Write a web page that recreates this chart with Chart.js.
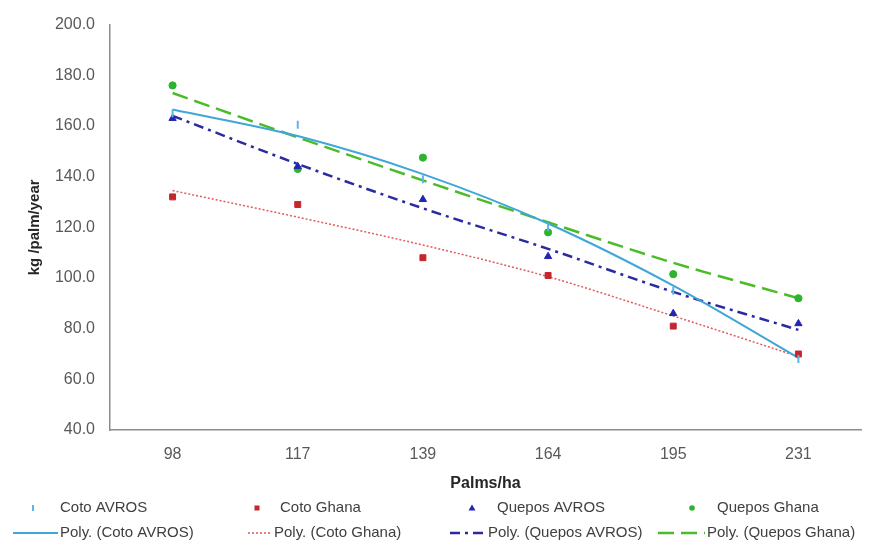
<!DOCTYPE html>
<html>
<head>
<meta charset="utf-8">
<script src="https://cdn.jsdelivr.net/npm/chart.js@4.4.1/dist/chart.umd.min.js"></script>
<style>
  html, body { margin: 0; padding: 0; background: #fff; }
  #wrap { width: 875px; height: 546px; }
</style>
</head>
<body>
<div id="wrap"><canvas id="yield"></canvas></div>
<script>
// palms per hectare (categories)
var densities = ['98', '117', '139', '164', '195', '231'];

// observed yields, kg/palm/year
var cotoAvros   = [165, 160.5, 139, 120, 95, 68];
var cotoGhana   = [132, 129, 108, 101, 81, 70];
var queposAvros = [163, 144, 131, 108.5, 86, 82];
var queposGhana = [176, 143, 147.5, 118, 101.5, 92];

// polynomial trend lines at each density
var polyCotoAvros   = [166.5, 156, 141, 121.5, 97, 68.5];
var polyCotoGhana   = [134.5, 124, 113, 100.5, 85, 69];
var polyQueposAvros = [164, 145, 127.5, 111.5, 94.5, 79.5];
var polyQueposGhana = [173, 155.5, 138.5, 122, 106, 92];

var FONT = '"Liberation Sans", Arial, sans-serif';

function markers(label, data, color, style, radius, extra) {
  var ds = {
    label: label,
    data: data,
    showLine: false,
    pointStyle: style,
    pointRadius: radius,
    pointHoverRadius: radius,
    backgroundColor: color,
    borderColor: color,
    pointBorderWidth: 1
  };
  for (var k in extra) ds[k] = extra[k];
  return ds;
}

function trend(label, data, color, width, dash) {
  return {
    label: label,
    data: data,
    borderColor: color,
    backgroundColor: color,
    borderWidth: width,
    borderDash: dash,
    pointRadius: 0,
    pointHoverRadius: 0,
    cubicInterpolationMode: 'monotone',
    fill: false
  };
}

// legend drawn in two rows, like the spreadsheet one
var legendRows = {
  id: 'legendRows',
  afterDraw: function (chart) {
    var ctx = chart.ctx;
    var ds = chart.data.datasets;
    var row1 = [[33, 60], [257, 280], [472, 497], [692, 717]];
    var row2 = [[13, 58, 60], [248, 272, 274], [450, 485, 488], [658, 705, 707]];
    ctx.save();
    ctx.font = '15px ' + FONT;
    ctx.fillStyle = '#404040';
    ctx.textBaseline = 'middle';
    ctx.textAlign = 'left';
    for (var i = 0; i < 4; i++) {
      var d = ds[i];
      var x = row1[i][0], y = 508;
      ctx.save();
      ctx.fillStyle = d.backgroundColor;
      ctx.strokeStyle = d.borderColor;
      ctx.lineWidth = 2;
      ctx.beginPath();
      if (d.pointStyle === 'line') {
        ctx.moveTo(x, y - 3); ctx.lineTo(x, y + 3); ctx.stroke();
      } else if (d.pointStyle === 'rect') {
        ctx.fillRect(x - 2.5, y - 2.5, 5, 5);
      } else if (d.pointStyle === 'triangle') {
        ctx.moveTo(x, y - 3.5); ctx.lineTo(x + 3.5, y + 2.5); ctx.lineTo(x - 3.5, y + 2.5); ctx.closePath(); ctx.fill();
      } else {
        ctx.arc(x, y, 2.8, 0, Math.PI * 2); ctx.fill();
      }
      ctx.restore();
      ctx.fillText(d.label, row1[i][1], y);
    }
    for (var j = 0; j < 4; j++) {
      var t = ds[j + 4];
      var y2 = 533;
      ctx.save();
      ctx.strokeStyle = t.borderColor;
      ctx.lineWidth = t.borderWidth;
      ctx.setLineDash(t.borderDash || []);
      ctx.beginPath();
      ctx.moveTo(row2[j][0], y2);
      ctx.lineTo(row2[j][1], y2);
      ctx.stroke();
      ctx.restore();
      ctx.fillText(t.label, row2[j][2], y2);
    }
    ctx.restore();
  }
};

new Chart(document.getElementById('yield'), {
  type: 'line',
  data: {
    labels: densities,
    datasets: [
      markers('Coto AVROS', cotoAvros, '#5bb6e6', 'line', 4, { rotation: 90, pointBorderWidth: 2 }),
      markers('Coto Ghana', cotoGhana, '#c4262e', 'rect', 4.2, {}),
      markers('Quepos AVROS', queposAvros, '#2424b4', 'triangle', 4.2, {}),
      markers('Quepos Ghana', queposGhana, '#2eb32e', 'circle', 3.6, {}),
      trend('Poly. (Coto AVROS)', polyCotoAvros, '#3fa6d8', 2, []),
      trend('Poly. (Coto Ghana)', polyCotoGhana, '#e25a5a', 1.5, [2, 2]),
      trend('Poly. (Quepos AVROS)', polyQueposAvros, '#2b2ba0', 2.5, [10, 5, 3, 5]),
      trend('Poly. (Quepos Ghana)', polyQueposGhana, '#4cbb2a', 2.5, [16, 7])
    ]
  },
  options: {
    responsive: true,
    maintainAspectRatio: false,
    animation: false,
    layout: { padding: { left: 0, right: 14, top: 17, bottom: 46 } },
    plugins: {
      legend: { display: false },
      tooltip: { enabled: false }
    },
    scales: {
      x: {
        offset: true,
        grid: { display: false, drawTicks: false },
        border: { display: true, color: '#8c8c8c', width: 1.5 },
        ticks: { color: '#595959', padding: 15, font: { family: FONT, size: 16 } },
        title: {
          display: true,
          text: 'Palms/ha',
          color: '#262626',
          padding: { top: 0, bottom: 7 },
          font: { family: FONT, size: 16, weight: 'bold' }
        },
        afterFit: function (scale) { scale.height = 70; }
      },
      y: {
        min: 40,
        max: 200,
        grid: { display: false, drawTicks: false },
        border: { display: true, color: '#8c8c8c', width: 1.5 },
        ticks: {
          stepSize: 20,
          color: '#595959',
          padding: 15,
          font: { family: FONT, size: 16 },
          callback: function (v) { return Number(v).toFixed(1); }
        },
        title: {
          display: true,
          text: 'kg /palm/year',
          color: '#262626',
          padding: { top: 26, bottom: 0 },
          font: { family: FONT, size: 15, weight: 'bold' }
        },
        afterFit: function (scale) { scale.width = 110; }
      }
    }
  },
  plugins: [legendRows]
});
</script>
</body>
</html>
